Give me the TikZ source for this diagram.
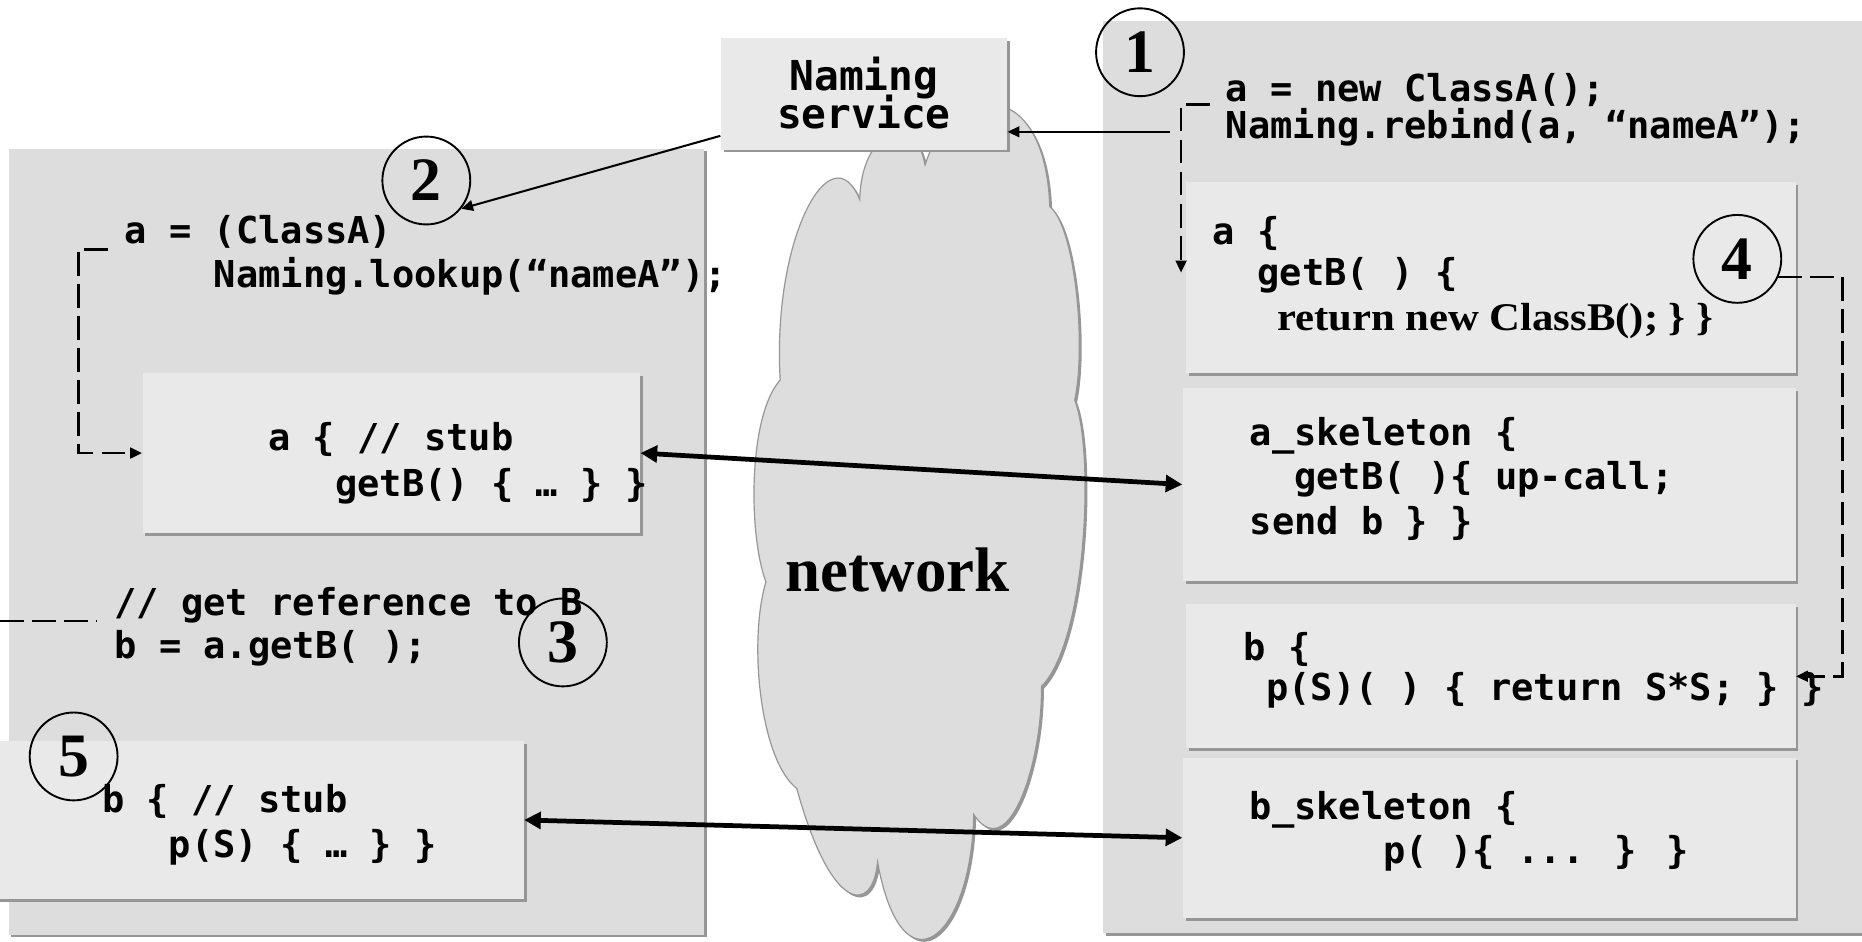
\documentclass[tikz,border=0pt]{standalone}
\usepackage{fontspec}
\usepackage{tikz}
\usetikzlibrary{arrows.meta,fit,shadows,positioning}

\newfontfamily\codefont{DejaVu Sans Mono}
\newfontfamily\serifbold{Liberation Serif}
\newfontfamily\serifwide[FakeStretch=1.09]{Liberation Serif}

\definecolor{panelgray}{RGB}{221,221,221}
\definecolor{boxgray}{RGB}{233,233,233}
\definecolor{edgegray}{RGB}{150,150,150}

\tikzset{
  panel/.style={fill=panelgray, inner sep=0pt,
    drop shadow={shadow xshift=1pt, shadow yshift=-1pt, fill=edgegray, opacity=1}},
  objbox/.style={fill=boxgray, inner sep=0pt,
    drop shadow={shadow xshift=1.2pt, shadow yshift=-1.2pt, fill=edgegray, opacity=1}},
  code/.style={anchor=base west, inner sep=0pt, align=left,
    font={\codefont\bfseries\fontsize{15.6pt}{#1}\selectfont\lineskiplimit=-20pt}},
  numcirc/.style={circle, draw, line width=0.8pt, minimum size=37pt, inner sep=0pt,
    font={\serifbold\bfseries\fontsize{26pt}{26pt}\selectfont}},
  thinarrow/.style={line width=0.85pt, -{Triangle[length=5pt,width=4.5pt]}},
  biarrow/.style={line width=2pt, {Triangle[length=7pt,width=7pt]}-{Triangle[length=7pt,width=7pt]}},
  dashline/.style={line width=1.1pt, dash pattern=on 10pt off 3.5pt, -{Triangle[length=5pt,width=4.5pt]}}
}

\begin{document}
\begin{tikzpicture}[x=0.5pt, y=-0.5pt]
    \useasboundingbox (0,0) rectangle (1568,793);

    % client side and server side
    \node[panel, fit={(7.5,125.5) (593,787)}] (client) {};
    \node[panel, fit={(929,17.5) (1600,786)}] (server) {};

    % the network cloud
    \path[fill=panelgray, draw=edgegray, line width=0.5pt,
          drop shadow={shadow xshift=1pt, shadow yshift=-1pt, fill=edgegray, opacity=1}]
        (657,320)
        .. controls (650,200) and (700,110) .. (724,168)
        .. controls (725,110) and (770,90) .. (779,139)
        .. controls (800,70) and (880,60) .. (884,174)
        .. controls (905,190) and (915,290) .. (905,337)
        .. controls (922,380) and (915,540) .. (877,578)
        .. controls (878,640) and (850,730) .. (820,686)
        .. controls (818,790) and (760,840) .. (739,726)
        .. controls (735,770) and (700,770) .. (671,664)
        .. controls (640,640) and (630,540) .. (645,490)
        .. controls (630,450) and (630,350) .. cycle;
    \node[anchor=base, inner sep=0pt, font={\serifbold\bfseries\fontsize{26.5pt}{26.5pt}\selectfont}]
        (net) at (756,498) {network};

    % objects
    \node[objbox, fit={(120,314) (539,449)}] (astub) {};
    \node[objbox, fit={(-10,624) (441,757)}] (bstub) {};
    \node[objbox, fit={(999,153) (1512,314)}] (aobj) {};
    \node[objbox, fit={(996,327) (1512,489)}] (askel) {};
    \node[objbox, fit={(999,509) (1512,630)}] (bobj) {};
    \node[objbox, fit={(996,638) (1512,773)}] (bskel) {};
    \node[objbox, fit={(607,32) (848,126)}] (naming) {};
    \node[anchor=base, inner sep=0pt, align=center,
          font={\codefont\bfseries\fontsize{17.35pt}{16.1pt}\selectfont\lineskiplimit=-20pt}]
        (nametxt) at (727.5,108) {Naming\\service};

    % client code (placed at the baseline of the last line)
    \node[code=18.5pt] (lookup) at (104.5,242) {a = (ClassA)\\\phantom{xxxx}Naming.lookup(“nameA”);};
    \node[code=19.35pt] (stubtxt) at (225.5,417.7) {a \{ // stub\\\phantom{xxx}getB() \{ … \} \}};
    \node[code=18.2pt] (getref) at (96,554.4) {// get reference to B\\b = a.getB( );};
    \node[code=18.85pt] (bstubtxt) at (85.5,722) {b \{ // stub\\\phantom{xxx}p(S) \{ … \} \}};

    % server code
    \node[code=15.65pt] (rebind) at (1032,117) {a = new ClassA();\\Naming.rebind(a, “nameA”);};
    \node[code=17.25pt] (aobjtxt) at (1021,240.8) {a \{\\\phantom{xx}getB( ) \{};
    \node[anchor=base west, inner sep=0pt, font={\serifwide\bfseries\fontsize{16.5pt}{16.5pt}\selectfont}]
        (retB) at (1075,278) {return new ClassB(); \} \}};
    \node[code=18.8pt] (askeltxt) at (1052,450) {a\_skeleton \{\\\phantom{xx}getB( )\{ up-call;\\send b \} \}};
    \node[code=16.85pt] (bobjtxt) at (1047,590.3) {b \{\\\phantom{x}p(S)( ) \{ return S*S; \} \}};
    \node[code=18.3pt] (bskeltxt) at (1052,727) {b\_skeleton \{\\\phantom{xxxxxx}p( )\{ ... \} \}};

    % steps
    \foreach \n/\x/\y in {1/960/44, 2/359/152, 3/474/541, 4/1463/218, 5/62/637} {
        \node[numcirc] (c\n) at (\x,\y) {\n};
    }

    % connectors
    \coordinate (r1) at (985,111);
    \coordinate (d1) at (1019,88);
    \coordinate (d2) at (91,210);
    \coordinate (d4) at (0,523);

    \draw[thinarrow] (r1) -- (r1 -| naming.east);
    \draw[thinarrow] ([yshift=6pt]naming.south west) -- (c2.-39);
    \draw[biarrow] (astub.east) -- (askel.west);
    \draw[biarrow] (bstub.east) -- (bskel.west);
    \draw[dashline] (d1) -| ([xshift=-2pt,yshift=2pt]aobj.west);
    \draw[dashline] (d2) -- ++(-25,0) |- (astub.west);
    \draw[dashline] (c4.-24) -- ++(54,0) |- (bobj.east);
    \draw[dashline, -] (d4) -- ++(82,0);
\end{tikzpicture}
\end{document}
